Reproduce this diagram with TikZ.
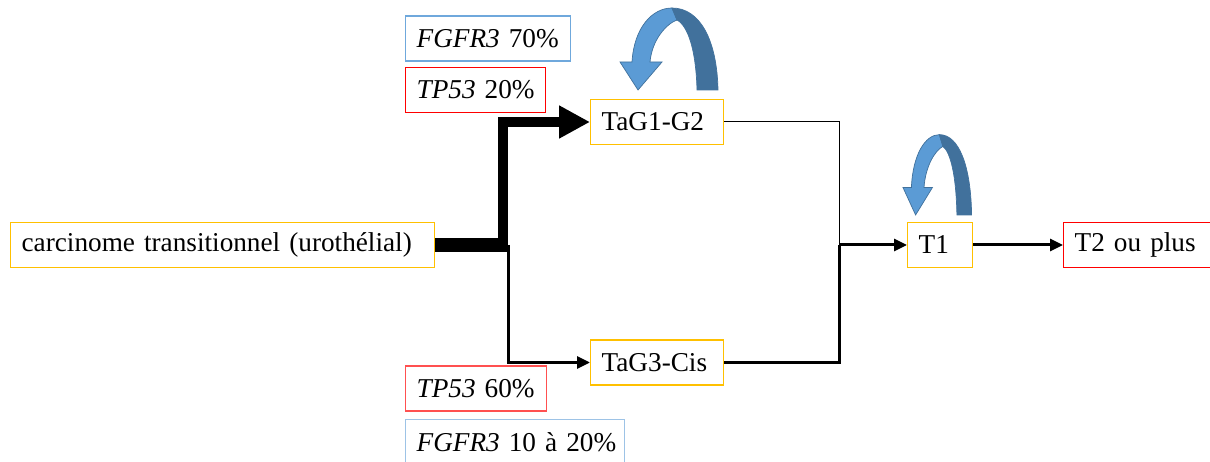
\documentclass[tikz,border=0pt]{standalone}
\usepackage{fontspec}
\setmainfont{Liberation Serif}
\usetikzlibrary{arrows.meta,positioning}

\definecolor{boxorange}{HTML}{FFC000}
\definecolor{boxred}{HTML}{FF0000}
\definecolor{boxpink}{HTML}{FF5050}
\definecolor{boxblue}{HTML}{6FA8DC}
\definecolor{boxlightblue}{HTML}{9DC3E6}
\definecolor{arrowlight}{HTML}{5B9BD5}
\definecolor{arrowdark}{HTML}{41719C}

\tikzset{
  cbox/.style={draw=#1,rectangle,line width=0.7pt,minimum height=0.9cm,inner xsep=0.22cm,
    align=left,anchor=west,font=\fontsize{15.5}{18}\selectfont},
  thickline/.style={line width=0.28cm},
  midline/.style={line width=0.2cm},
  thinline/.style={line width=0.06cm},
  hairline/.style={line width=0.02cm},
  bigtip/.style={-{Triangle[length=0.62cm,width=0.62cm]}},
  smalltip/.style={-{Triangle[length=0.26cm,width=0.24cm]}},
  % curved blue arrow, origin at its lower left corner
  pics/loopback/.style={code={
    \filldraw[fill=arrowlight,draw=arrowdark,line width=0.4pt]
      (12,-28) .. controls (14,-62) and (32,-82) .. (52,-82) -- (57,-70)
      .. controls (46,-66) and (32,-50) .. (30,-28) -- (42,-28) -- (18,0) -- (0,-28) -- cycle;
    \filldraw[fill=arrowdark,draw=arrowdark,line width=0.4pt]
      (52,-82) .. controls (80,-82) and (97,-50) .. (98,0) -- (77,0)
      .. controls (76,-40) and (68,-64) .. (57,-70) -- cycle;
  }}
}

\begin{document}
\begin{tikzpicture}[x=0.02cm,y=-0.02cm]
\useasboundingbox (0,0) rectangle (1210,462);

\node[cbox=boxorange,text width=8.04cm] (carc) at (10,245) {carcinome~transitionnel~(urothélial)};
\node[cbox=boxorange,text width=2.22cm] (tagA) at (590,122) {TaG1-G2};
\node[cbox=boxorange,text width=2.22cm] (tagB) at (590,362.5) {TaG3-Cis};
\node[cbox=boxorange,text width=0.86cm] (t1) at (907,245) {T1};
\node[cbox=boxred,text width=2.6cm] (t2) at (1063,245) {T2~ou~plus};

\node[cbox=boxblue,text width=2.86cm] (fgfrA) at (405,38.5) {\textit{FGFR3}~70\%};
\node[cbox=boxred,text width=2.36cm] (tpA) [below=0.1cm of fgfrA.south west,anchor=north west] {\textit{TP53}~20\%};
\node[cbox=boxpink,text width=2.38cm] (tpB) at (405,388.5) {\textit{TP53}~60\%};
\node[cbox=boxlightblue,text width=3.94cm] (fgfrB) [below=0.14cm of tpB.south west,anchor=north west] {\textit{FGFR3}~10~à~20\%};

\coordinate (split) at (508,245);
\coordinate (rise) at (503,252);
\coordinate (merge) at (839,245);

\draw[thickline] (carc.east) -- (split);
\draw[midline,bigtip] (rise) |- (tagA.west);
\draw[thinline,smalltip] (split) |- (tagB.west);

\draw[hairline] (tagA.east) -| (merge);
\draw[thinline] (tagB.east) -| (merge);
\draw[thinline,smalltip] (merge) -- (t1.west);
\draw[thinline,smalltip] (t1.east) -- (t2.west);

\pic at (620,90) {loopback};
\pic[xscale=0.7,yscale=0.98] at (903,215) {loopback};

\end{tikzpicture}
\end{document}
